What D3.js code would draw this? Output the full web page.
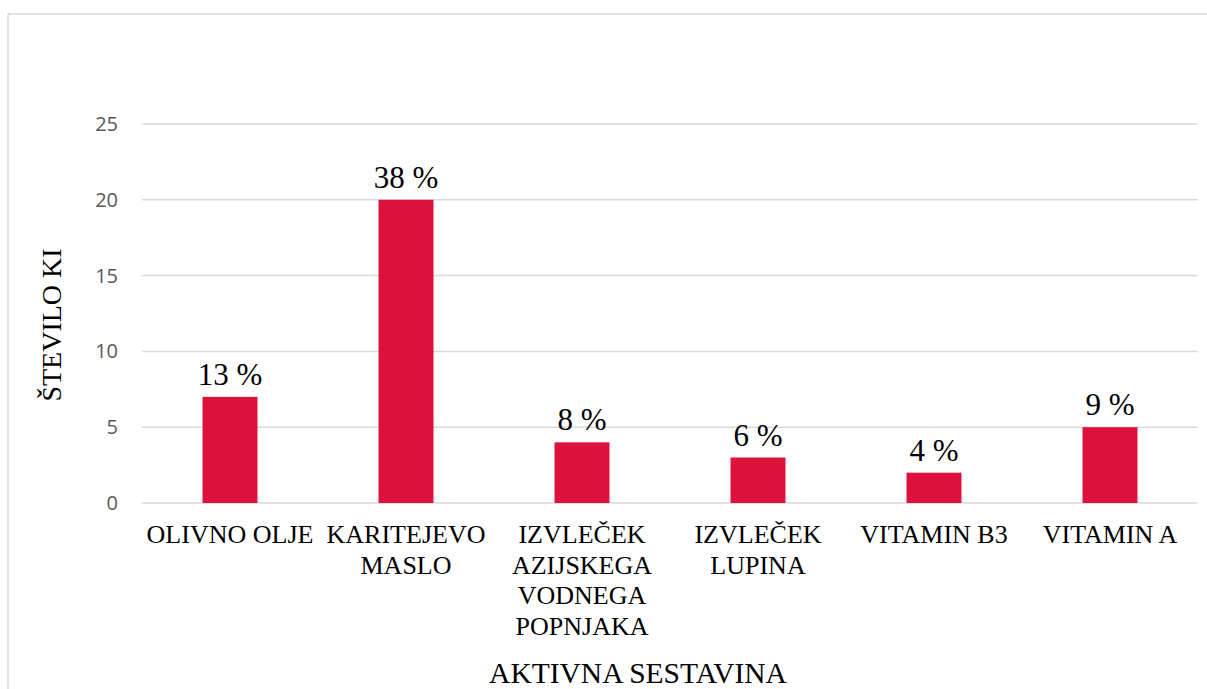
<!DOCTYPE html>
<meta charset="utf-8">
<style>
  body {
    margin: 0;
    background: #fff;
  }

  .grid line {
    stroke: #d9d9d9;
    stroke-width: 1.5px;
  }

  .y.axis text {
    font-family: "Open Sans", sans-serif;
    font-size: 20px;
    fill: #595959;
  }

  .bar {
    fill: #dc113c;
  }
</style>

<body>
  <div id="chart"></div>

  <script src="https://d3js.org/d3.v7.min.js"></script>
  <script>
    // data
    var categories = [
      ["OLIVNO OLJE"],
      ["KARITEJEVO", "MASLO"],
      ["IZVLEČEK", "AZIJSKEGA", "VODNEGA", "POPNJAKA"],
      ["IZVLEČEK", "LUPINA"],
      ["VITAMIN B3"],
      ["VITAMIN A"]
    ];
    var counts = [7, 20, 4, 3, 2, 5];
    var percentLabels = ["13 %", "38 %", "8 %", "6 %", "4 %", "9 %"];
    var yTicks = [0, 5, 10, 15, 20, 25];

    var serif = "'Liberation Serif', 'Times New Roman', serif";

    // set the dimensions and margins of the graph
    var margin = {
        top: 124,
        right: 9,
        bottom: 186,
        left: 142
      },
      totalW = 1207,
      totalH = 689,
      width = totalW - margin.left - margin.right,
      height = totalH - margin.top - margin.bottom;

    var keys = categories.map(function(d, i) { return i; });

    var x = d3.scaleBand()
      .domain(keys)
      .range([0, width])
      .padding(0);

    var barW = x.bandwidth() * 0.3125;

    var y = d3.scaleLinear()
      .domain([0, 25])
      .range([height, 0]);

    var svg = d3.select("#chart")
      .append("svg")
      .attr("width", totalW)
      .attr("height", totalH);

    // chart border (right and bottom run off the picture)
    svg.append("rect")
      .attr("x", 8)
      .attr("y", 14)
      .attr("width", totalW + 20)
      .attr("height", totalH + 20)
      .attr("fill", "none")
      .attr("stroke", "#d9d9d9")
      .attr("stroke-width", 1.5);

    var g = svg.append("g")
      .attr("transform", "translate(" + margin.left + "," + margin.top + ")");

    // gridlines
    g.append("g")
      .attr("class", "grid")
      .selectAll("line")
      .data(yTicks)
      .enter().append("line")
      .attr("x1", 0)
      .attr("x2", width)
      .attr("y1", function(d) { return y(d); })
      .attr("y2", function(d) { return y(d); });

    // y axis labels only
    var yAxis = d3.axisLeft(y)
      .tickValues(yTicks)
      .tickSize(0)
      .tickPadding(24);

    g.append("g")
      .attr("class", "y axis")
      .call(yAxis)
      .call(function(s) { s.select(".domain").remove(); });

    // bars
    g.selectAll(".bar")
      .data(counts)
      .enter().append("rect")
      .attr("class", "bar")
      .attr("x", function(d, i) { return x(i) + x.bandwidth() / 2 - barW / 2; })
      .attr("y", function(d) { return y(d); })
      .attr("width", barW)
      .attr("height", function(d) { return height - y(d); });

    // value labels
    g.selectAll(".val")
      .data(counts)
      .enter().append("text")
      .attr("class", "val")
      .attr("x", function(d, i) { return x(i) + x.bandwidth() / 2; })
      .attr("y", function(d) { return y(d) - 12; })
      .attr("text-anchor", "middle")
      .attr("font-family", serif)
      .attr("font-size", "31px")
      .attr("fill", "#000")
      .text(function(d, i) { return percentLabels[i]; });

    // category labels, one tspan per line
    var cat = g.selectAll(".cat")
      .data(categories)
      .enter().append("text")
      .attr("class", "cat")
      .attr("text-anchor", "middle")
      .attr("font-family", serif)
      .attr("font-size", "26px")
      .attr("fill", "#000")
      .attr("transform", function(d, i) {
        return "translate(" + (x(i) + x.bandwidth() / 2) + "," + (height + 40) + ")";
      });

    cat.selectAll("tspan")
      .data(function(d) { return d; })
      .enter().append("tspan")
      .attr("x", 0)
      .attr("y", function(d, j) { return j * 30.5; })
      .text(function(d) { return d; });

    // axis titles
    svg.append("text")
      .attr("text-anchor", "middle")
      .attr("font-family", serif)
      .attr("font-size", "28px")
      .attr("fill", "#000")
      .attr("transform", "translate(61," + 325 + ") rotate(-90)")
      .text("ŠTEVILO KI");

    svg.append("text")
      .attr("text-anchor", "middle")
      .attr("font-family", serif)
      .attr("font-size", "29.5px")
      .attr("fill", "#000")
      .attr("x", margin.left + width / 2 - 32)
      .attr("y", 683)
      .text("AKTIVNA SESTAVINA");
  </script>
</body>
